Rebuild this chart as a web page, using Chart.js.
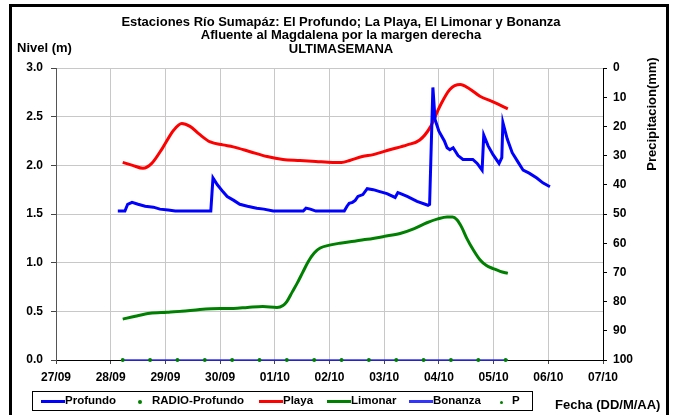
<!DOCTYPE html>
<html><head><meta charset="utf-8">
<script src="https://cdn.jsdelivr.net/npm/chart.js@4.4.1/dist/chart.umd.min.js"></script>
<style>
html,body{margin:0;padding:0;background:#fff;}
#wrap{position:relative;width:674px;height:415px;overflow:hidden;font-family:"Liberation Sans",Arial,sans-serif;font-weight:bold;color:#000;}
canvas{position:absolute;left:0;top:0;}
.frame{position:absolute;left:9px;top:4px;width:660px;height:420px;border:3px solid #000;box-sizing:border-box;}
.t{position:absolute;white-space:nowrap;font-size:13px;line-height:15px;}
.title{left:4px;width:674px;text-align:center;}
#legend{position:absolute;left:32px;top:391px;width:501px;height:20px;border:1px solid #000;box-sizing:border-box;background:#fff;font-size:11.5px;}
#legend span{position:absolute;top:2px;}
#legend i{position:absolute;display:block;}
</style></head>
<body><div id="wrap">
<canvas id="c" width="674" height="415"></canvas>
<div class="frame"></div>
<div class="t title" style="top:14px">Estaciones Río Sumapáz: El Profundo; La Playa, El Limonar y Bonanza</div>
<div class="t title" style="top:27px">Afluente al Magdalena por la margen derecha</div>
<div class="t title" style="top:41px">ULTIMASEMANA</div>
<div class="t" style="left:17px;top:40px">Nivel (m)</div>
<div class="t" style="left:651px;top:114px;transform:translate(-50%,-50%) rotate(-90deg);">Precipitacion(mm)</div>
<div class="t" style="left:555px;top:397px">Fecha (DD/M/AA)</div>
<div id="legend">
  <i style="left:8px;top:8px;width:24px;height:3px;background:#0000ff"></i><span style="left:32px">Profundo</span>
  <i style="left:105px;top:8px;width:4px;height:4px;border-radius:2px;background:#008000"></i><span style="left:119px">RADIO-Profundo</span>
  <i style="left:226px;top:8px;width:24px;height:3px;background:#ff0000"></i><span style="left:250px">Playa</span>
  <i style="left:294px;top:8px;width:24px;height:3px;background:#008000"></i><span style="left:318px">Limonar</span>
  <i style="left:376px;top:8px;width:24px;height:3px;background:#3333ff"></i><span style="left:400px">Bonanza</span>
  <i style="left:467px;top:9px;width:3px;height:3px;border-radius:2px;background:#008000"></i><span style="left:479px">P</span>
</div>
</div>
<script>
// x values are days since 27/09 00:00
const tickLabels = ['27/09','28/09','29/09','30/09','01/10','02/10','03/10','04/10','05/10','06/10','07/10'];

const profundoDays = [1.13,1.26,1.31,1.39,1.50,1.63,1.78,1.90,2.05,2.18,2.83,2.87,2.95,3.05,3.13,3.25,3.36,3.50,3.67,3.80,3.97,4.52,4.57,4.65,4.75,5.27,5.32,5.36,5.42,5.47,5.52,5.61,5.69,5.80,5.92,6.05,6.20,6.25,6.30,6.42,6.60,6.80,6.83,6.89,6.93,7.00,7.10,7.15,7.20,7.26,7.35,7.44,7.62,7.70,7.79,7.82,7.90,7.99,8.10,8.15,8.17,8.25,8.34,8.45,8.54,8.65,8.79,8.90,9.03];
const profundoValues = [1.53,1.53,1.60,1.62,1.60,1.58,1.57,1.55,1.54,1.53,1.53,1.87,1.80,1.73,1.68,1.64,1.60,1.58,1.56,1.55,1.53,1.53,1.56,1.55,1.53,1.53,1.58,1.61,1.62,1.64,1.68,1.70,1.76,1.75,1.73,1.71,1.67,1.72,1.71,1.68,1.63,1.59,1.60,2.80,2.47,2.35,2.25,2.18,2.16,2.18,2.10,2.06,2.06,2.02,1.95,2.31,2.20,2.11,2.02,2.08,2.44,2.27,2.13,2.03,1.95,1.92,1.87,1.82,1.78];

const radioDays = [1.22,1.72,2.22,2.72,3.22,3.72,4.22,4.72,5.22,5.72,6.22,6.72,7.22,7.72,8.22];
const radioValues = [0,0,0,0,0,0,0,0,0,0,0,0,0,0,0];

const playaDays = [1.22,1.40,1.59,1.75,1.95,2.15,2.30,2.45,2.62,2.82,3.05,3.24,3.55,3.86,4.15,4.46,4.75,5.06,5.22,5.37,5.60,5.80,6.10,6.42,6.65,6.84,7.02,7.20,7.39,7.55,7.75,8.00,8.26];
const playaValues = [2.03,2.00,1.97,2.02,2.18,2.36,2.43,2.40,2.32,2.24,2.21,2.19,2.14,2.09,2.06,2.05,2.04,2.03,2.03,2.05,2.09,2.11,2.16,2.21,2.26,2.39,2.61,2.78,2.83,2.79,2.71,2.65,2.58];

const limonarDays = [1.22,1.45,1.72,2.03,2.30,2.63,3.00,3.24,3.50,3.78,4.04,4.15,4.22,4.32,4.41,4.51,4.61,4.72,4.83,5.00,5.19,5.45,5.69,6.00,6.29,6.55,6.78,6.98,7.15,7.25,7.33,7.42,7.51,7.63,7.75,7.87,7.99,8.12,8.26];
const limonarValues = [0.42,0.45,0.48,0.49,0.50,0.52,0.53,0.53,0.54,0.55,0.54,0.56,0.60,0.70,0.79,0.90,1.01,1.10,1.15,1.18,1.20,1.22,1.24,1.27,1.30,1.35,1.41,1.45,1.47,1.47,1.44,1.36,1.25,1.13,1.03,0.97,0.94,0.91,0.89];

const bonanzaDays = [1.22,3.00,5.00,7.00,8.26];
const bonanzaValues = [0,0,0,0,0];

const pDays = [];
const pValues = [];

const zip = (xs, ys) => xs.map((x, i) => ({x: x, y: ys[i]}));
const FONT = {family: '"Liberation Sans", Arial, sans-serif', size: 12, weight: 'bold'};

new Chart(document.getElementById('c'), {
  type: 'line',
  data: {
    datasets: [
      {label: 'Bonanza', data: zip(bonanzaDays, bonanzaValues), borderColor: '#3333ff', borderWidth: 1.5, pointRadius: 0, clip: false, order: 5},
      {label: 'RADIO-Profundo', data: zip(radioDays, radioValues), showLine: false, pointRadius: 2, pointBackgroundColor: '#008000', pointBorderWidth: 0, clip: false, order: 0},
      {label: 'P', data: zip(pDays, pValues), showLine: false, pointRadius: 1.5, pointBackgroundColor: '#008000', pointBorderWidth: 0, yAxisID: 'y2'},
      {label: 'Limonar', data: zip(limonarDays, limonarValues), borderColor: '#008000', borderWidth: 3, pointRadius: 0, cubicInterpolationMode: 'monotone', order: 3},
      {label: 'Playa', data: zip(playaDays, playaValues), borderColor: '#ff0000', borderWidth: 3, pointRadius: 0, cubicInterpolationMode: 'monotone', order: 2},
      {label: 'Profundo', data: zip(profundoDays, profundoValues), borderColor: '#0000ff', borderWidth: 3, pointRadius: 0, tension: 0, order: 1}
    ]
  },
  options: {
    responsive: false,
    animation: false,
    devicePixelRatio: 1,
    layout: {padding: {top: 68, left: 0, right: 0, bottom: 0}},
    plugins: {legend: {display: false}, title: {display: false}, tooltip: {enabled: false}},
    scales: {
      x: {
        type: 'linear', min: 0, max: 10,
        afterFit: s => { s.height = 55; },
        afterBuildTicks: s => { s.ticks = tickLabels.map((l, i) => ({value: i})); },
        ticks: {callback: (v) => tickLabels[v], font: FONT, color: '#000', padding: 6, maxRotation: 0, autoSkip: false},
        grid: {color: '#c8c8c8', lineWidth: 1, tickColor: '#444', tickLength: 4},
        border: {color: '#000', width: 1}
      },
      y: {
        position: 'left', min: 0, max: 3,
        afterFit: s => { s.width = 56; },
        ticks: {stepSize: 0.5, callback: v => v.toFixed(1), font: FONT, color: '#000', padding: 8},
        grid: {color: '#c8c8c8', lineWidth: 1, tickColor: '#444', tickLength: 5},
        border: {color: '#555', width: 1}
      },
      y2: {
        position: 'right', min: 0, max: 100, reverse: true,
        afterFit: s => { s.width = 71; },
        ticks: {stepSize: 10, font: FONT, color: '#000', padding: 6},
        grid: {drawOnChartArea: false, tickColor: '#000', tickLength: 4},
        border: {color: '#000', width: 1}
      }
    }
  }
});
</script>
</body></html>
